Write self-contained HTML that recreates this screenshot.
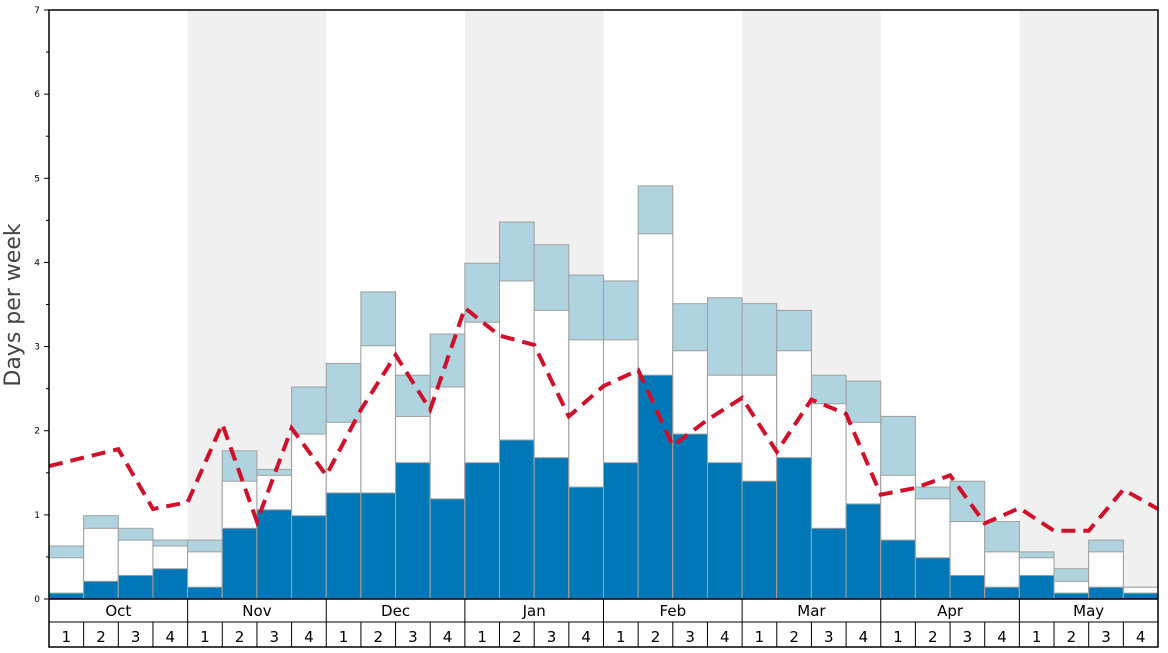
<!DOCTYPE html>
<html><head><meta charset="utf-8"><style>
body{margin:0;background:#fff;font-family:"Liberation Sans","DejaVu Sans",sans-serif;}
svg text{font-family:"DejaVu Sans","Liberation Sans",sans-serif;}
</style></head><body>
<svg id="chart" width="1168" height="648" viewBox="0 0 1168 648" xmlns="http://www.w3.org/2000/svg">
<g id="bg"></g><g id="bars"></g><g id="line"></g><g id="axes"></g>
</svg>
<script>
const months=["Oct","Nov","Dec","Jan","Feb","Mar","Apr","May"];
const weekLabels=["1","2","3","4"];
const darkVals=[0.07,0.21,0.28,0.36,0.14,0.84,1.06,0.99,1.26,1.26,1.62,1.19,1.62,1.89,1.68,1.33,1.62,2.66,1.96,1.62,1.40,1.68,0.84,1.13,0.70,0.49,0.28,0.14,0.28,0.07,0.14,0.07];
const midVals=[0.49,0.84,0.70,0.63,0.56,1.40,1.47,1.96,2.10,3.01,2.17,2.52,3.29,3.78,3.43,3.08,3.08,4.34,2.95,2.66,2.66,2.95,2.32,2.10,1.47,1.19,0.92,0.56,0.49,0.21,0.56,0.14];
const topVals=[0.63,0.99,0.84,0.70,0.70,1.76,1.54,2.52,2.80,3.65,2.66,3.15,3.99,4.48,4.21,3.85,3.78,4.91,3.51,3.58,3.51,3.43,2.66,2.59,2.17,1.33,1.40,0.92,0.56,0.36,0.70,0.14];
const lineVals=[1.58,1.68,1.78,1.07,1.15,2.08,0.92,2.03,1.47,2.25,2.90,2.25,3.46,3.13,3.02,2.17,2.53,2.72,1.82,2.13,2.39,1.75,2.37,2.20,1.24,1.32,1.47,0.90,1.08,0.81,0.81,1.30,1.07];
const yTicks=[0,1,2,3,4,5,6,7];

const X0=49,X1=1158,Y0=599,Y1=10,N=32,YMAX=7;
const bw=(X1-X0)/N;
const xs=i=>X0+i*bw;
const ys=v=>Y0-(v/YMAX)*(Y0-Y1);
const NS="http://www.w3.org/2000/svg";
function mk(parent,tag,attrs,text){const e=document.createElementNS(NS,tag);for(const k in attrs)e.setAttribute(k,attrs[k]);if(text!=null)e.textContent=text;document.getElementById(parent).appendChild(e);return e;}

// month shading
months.forEach((m,i)=>{
  if(i%2===1){const r=mk('bg','rect',{x:xs(i*4),y:Y1,width:bw*4,height:Y0-Y1,fill:'#f0f0f0'});
  
  }
});
// bars
for(let i=0;i<N;i++){
  const segs=[[topVals[i],'#afd3df','top'],[midVals[i],'#fdfdfd','mid'],[darkVals[i],'#0077b6','dark']];
  segs.forEach(s=>{
    const r=mk('bars','rect',{x:xs(i),y:ys(s[0]),width:bw,height:Y0-ys(s[0]),fill:s[1],stroke:'#a0a0a0','stroke-width':1});
    
    
  });
}
// line
const pts=lineVals.map((v,i)=>xs(i).toFixed(1)+','+ys(v).toFixed(1)).join(' ');
const pl=mk('line','polyline',{points:pts,fill:'none',stroke:'#d0102a','stroke-width':4,'stroke-dasharray':'14,8'});


// axes frame
const fr=mk('axes','rect',{x:X0,y:Y1,width:X1-X0,height:647-Y1,fill:'none',stroke:'#000','stroke-width':1.5});


mk('axes','line',{x1:X0,y1:Y0,x2:X1,y2:Y0,stroke:'#000','stroke-width':1.5});
mk('axes','line',{x1:X0,y1:622,x2:X1,y2:622,stroke:'#000','stroke-width':1});
// y ticks
yTicks.forEach(t=>{
  mk('axes','line',{x1:X0-5,y1:ys(t),x2:X0,y2:ys(t),stroke:'#000'});
  const tx=mk('axes','text',{x:X0-9,y:ys(t)+3,'font-size':9,'text-anchor':'end',fill:'#000'},String(t));
  
  
  if(t<YMAX)mk('axes','line',{x1:X0-3,y1:ys(t+0.5),x2:X0,y2:ys(t+0.5),stroke:'#000'});
});
const yt=mk('axes','text',{x:20,y:305,'font-size':22,'text-anchor':'middle',fill:'#444',transform:'rotate(-90 20 305)'},'Days per week');


// month labels
months.forEach((m,i)=>{
  if(i>0)mk('axes','line',{x1:xs(i*4),y1:Y0,x2:xs(i*4),y2:647,stroke:'#000'});
  const t=mk('axes','text',{x:xs(i*4)+bw*2,y:616,'font-size':15,'text-anchor':'middle',fill:'#000'},m);
  
  
});
for(let i=0;i<N;i++){
  if(i%4!==0)mk('axes','line',{x1:xs(i),y1:622,x2:xs(i),y2:647,stroke:'#000'});
  const t=mk('axes','text',{x:xs(i)+bw/2,y:642,'font-size':15,'text-anchor':'middle',fill:'#000'},weekLabels[i%4]);
  
  
}
</script>
</body></html>
